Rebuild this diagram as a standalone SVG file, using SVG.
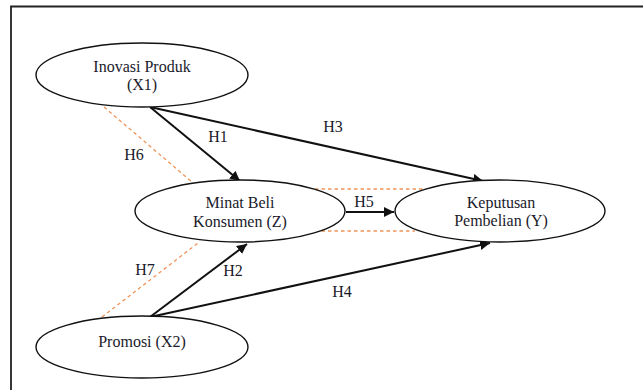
<svg xmlns="http://www.w3.org/2000/svg" width="643" height="390" viewBox="0 0 643 390">
<defs>
<style>
.node ellipse{fill:#fff;stroke:#111;stroke-width:1.4}
text{font-family:"Liberation Serif","Times New Roman",serif;font-size:16px;fill:#1a1a2a;text-anchor:middle}
.arr{stroke:#111;stroke-width:2;fill:none;marker-end:url(#ah)}
.dash{stroke:#f0955a;stroke-width:1.3;stroke-dasharray:3.5,3;fill:none}
.frame{stroke:#222;stroke-width:1.8;fill:none}
</style>
<marker id="ah" viewBox="0 0 10 10" refX="10" refY="5" markerWidth="5" markerHeight="5" orient="auto" markerUnits="strokeWidth">
<path d="M0,0 L10,5 L0,10 z" fill="#111"/>
</marker>
</defs>
<rect width="643" height="390" fill="#fff"/>
<path class="frame" d="M11,390 V6.5 H643"/>
<g id="connectors">
<line class="dash" x1="104" y1="107" x2="192" y2="182"/>
<line class="dash" x1="102" y1="317" x2="198" y2="243"/>
<line class="dash" x1="315" y1="189" x2="428" y2="189"/>
<line class="dash" x1="315" y1="231" x2="415" y2="231"/>
<line class="arr" x1="150" y1="107" x2="240" y2="181"/>
<line class="arr" x1="150" y1="107" x2="483" y2="181"/>
<line class="arr" x1="346" y1="212" x2="394" y2="212"/>
<line class="arr" x1="150" y1="317" x2="247" y2="244"/>
<line class="arr" x1="150" y1="317" x2="490" y2="243"/>
<text x="218" y="142">H1</text>
<text x="233" y="276">H2</text>
<text x="333" y="132">H3</text>
<text x="342" y="297">H4</text>
<text x="364" y="207">H5</text>
<text x="134" y="160">H6</text>
<text x="145" y="275">H7</text>
</g>
<g id="node-x1" class="node">
<ellipse cx="142" cy="75" rx="106" ry="32"/>
<text x="142" y="72">Inovasi Produk</text>
<text x="142" y="90">(X1)</text>
</g>
<g id="node-z" class="node">
<ellipse cx="240" cy="211" rx="105" ry="31"/>
<text x="240" y="208">Minat Beli</text>
<text x="240" y="227">Konsumen (Z)</text>
</g>
<g id="node-y" class="node">
<ellipse cx="500" cy="211" rx="105" ry="31"/>
<text x="501" y="208">Keputusan</text>
<text x="501" y="226">Pembelian (Y)</text>
</g>
<g id="node-x2" class="node">
<ellipse cx="142" cy="347" rx="106" ry="31"/>
<text x="142" y="347">Promosi (X2)</text>
</g>
</svg>
